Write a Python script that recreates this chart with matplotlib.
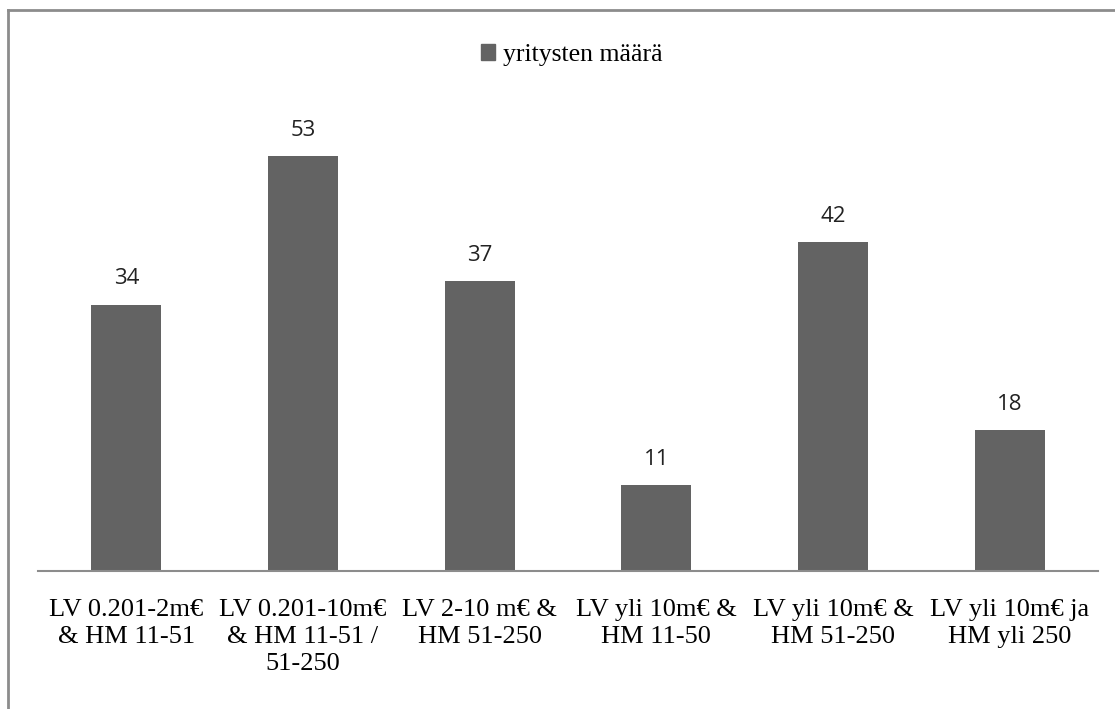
import matplotlib.pyplot as plt
import numpy as np
from matplotlib.patches import Rectangle
from matplotlib.lines import Line2D

categories = [
    "LV 0.201-2m€\n& HM 11-51",
    "LV 0.201-10m€\n& HM 11-51 /\n51-250",
    "LV 2-10 m€ &\nHM 51-250",
    "LV yli 10m€ &\nHM 11-50",
    "LV yli 10m€ &\nHM 51-250",
    "LV yli 10m€ ja\nHM yli 250",
]
values = [34, 53, 37, 11, 42, 18]
series_name = "yritysten määrä"

bar_color = "#636363"
serif = ["Liberation Serif", "DejaVu Serif"]

fig = plt.figure(figsize=(11.15, 7.09), dpi=100)

# outer chart frame (only left and top visible, like the clipped original)
fig.add_artist(Line2D([8 / 1115, 8 / 1115], [0, 1 - 10 / 709],
                      color="#8c8c8c", lw=2, transform=fig.transFigure))
fig.add_artist(Line2D([8 / 1115, 1], [1 - 10 / 709, 1 - 10 / 709],
                      color="#8c8c8c", lw=2, transform=fig.transFigure))

# axes: x 38..1098, y baseline at 571, top at 101 (value 60)
ax = fig.add_axes([38 / 1115, 1 - 571 / 709, 1060 / 1115, 470 / 709])
x = np.arange(len(values))
bars = ax.bar(x, values, width=0.396, color=bar_color, zorder=2)

ax.set_xlim(-0.5, len(values) - 0.5)
ax.set_ylim(0, 60)
for side in ["left", "right", "top"]:
    ax.spines[side].set_visible(False)
ax.spines["bottom"].set_color("#8c8c8c")
ax.spines["bottom"].set_linewidth(1.5)
ax.set_yticks([])
ax.set_xticks(x)
ax.set_xticklabels(categories, family=serif, fontsize=19, linespacing=1.3)
ax.tick_params(axis="x", length=0, pad=20)

for xi, v in zip(x, values):
    ax.annotate(str(v), (xi, v), xytext=(0, 11), textcoords="offset points",
                ha="center", va="bottom", fontsize=16, family="Open Sans",
                color="#222222")

# legend
fig.legend(handles=[Rectangle((0, 0), 1, 1, color=bar_color)],
           labels=[series_name], loc="center", bbox_to_anchor=(572 / 1115, 1 - 55 / 709),
           frameon=False, prop={"family": serif, "size": 18.5},
           handlelength=0.55, handleheight=0.55, handletextpad=0.3)

fig.savefig("out.png", dpi=100, facecolor="white")
